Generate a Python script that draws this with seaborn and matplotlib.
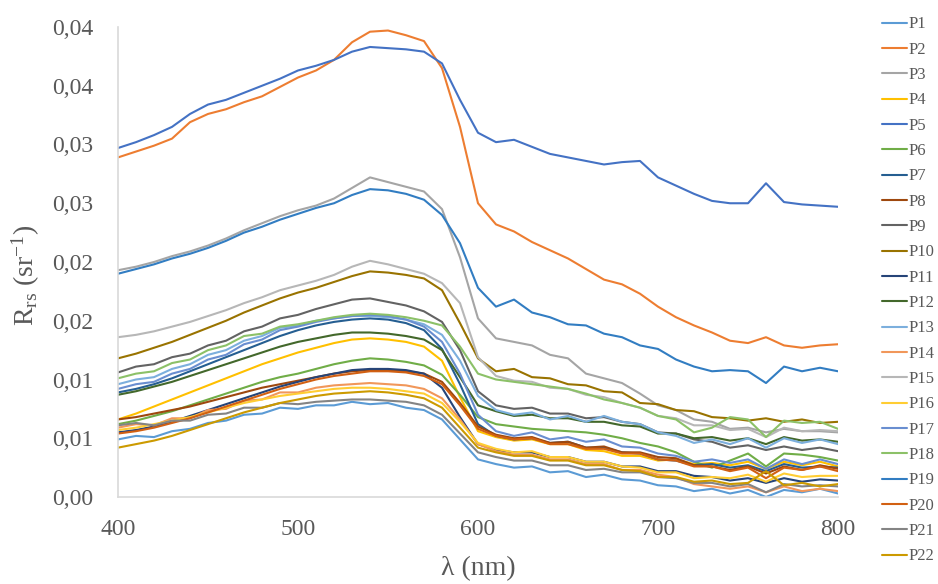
import numpy as np
import pandas as pd
import seaborn as sns
import matplotlib.pyplot as plt

# wavelength grid (nm) and Rrs values, in units of 1e-3 sr^-1
wavelength = list(range(400, 801, 10))

p1 = [4.9, 5.2, 5.1, 5.6, 5.8, 6.3, 6.5, 7.0, 7.1, 7.6, 7.5,
      7.8, 7.8, 8.1, 7.9, 8.0, 7.6, 7.4, 6.6, 4.9, 3.2,
      2.8, 2.5, 2.6, 2.1, 2.2, 1.7, 1.9, 1.5, 1.4, 1.0,
      0.9, 0.5, 0.7, 0.3, 0.6, 0.0, 0.6, 0.4, 0.7, 0.3]
p2 = [28.9, 29.4, 29.9, 30.5, 31.9, 32.6, 33.0, 33.6, 34.1, 34.9, 35.7,
      36.3, 37.2, 38.7, 39.6, 39.7, 39.3, 38.8, 36.5, 31.5, 25.0,
      23.2, 22.6, 21.7, 21.0, 20.3, 19.4, 18.5, 18.1, 17.3, 16.2,
      15.3, 14.6, 14.0, 13.3, 13.1, 13.6, 12.9, 12.7, 12.9, 13.0]
p3 = [19.3, 19.6, 20.0, 20.5, 20.9, 21.4, 22.0, 22.7, 23.3, 23.9, 24.4,
      24.8, 25.4, 26.3, 27.2, 26.8, 26.4, 26.0, 24.5, 20.4, 15.2,
      13.5, 13.2, 12.9, 12.1, 11.8, 10.5, 10.1, 9.7, 8.8, 7.8,
      7.4, 6.6, 6.4, 5.8, 5.9, 5.5, 5.8, 5.6, 5.6, 5.5]
p4 = [6.6, 7.1, 7.7, 8.3, 8.9, 9.5, 10.1, 10.7, 11.3, 11.8, 12.3,
      12.7, 13.1, 13.4, 13.5, 13.4, 13.2, 12.8, 11.6, 8.5, 5.6,
      5.1, 4.8, 4.9, 4.5, 4.5, 4.0, 3.9, 3.5, 3.5, 3.1,
      3.2, 2.8, 2.9, 2.7, 3.0, 2.4, 3.0, 2.7, 3.0, 2.6]
p5 = [29.7, 30.2, 30.8, 31.5, 32.6, 33.4, 33.8, 34.4, 35.0, 35.6, 36.3,
      36.7, 37.2, 37.9, 38.3, 38.2, 38.1, 37.9, 36.9, 33.8, 31.0,
      30.2, 30.4, 29.8, 29.2, 28.9, 28.6, 28.3, 28.5, 28.6, 27.2,
      26.5, 25.8, 25.2, 25.0, 25.0, 26.7, 25.1, 24.9, 24.8, 24.7]
p6 = [6.2, 6.5, 6.9, 7.3, 7.8, 8.3, 8.8, 9.3, 9.8, 10.2, 10.5,
      10.9, 11.3, 11.6, 11.8, 11.7, 11.5, 11.2, 10.4, 8.7, 6.8,
      6.2, 6.0, 5.8, 5.7, 5.6, 5.5, 5.3, 5.0, 4.6, 4.3,
      3.8, 3.0, 2.5, 3.1, 3.7, 2.6, 3.7, 3.6, 3.4, 3.1]
p7 = [8.9, 9.2, 9.6, 10.1, 10.7, 11.3, 11.9, 12.5, 13.1, 13.7, 14.2,
      14.6, 14.9, 15.1, 15.2, 15.1, 14.8, 14.2, 12.6, 9.6, 6.2,
      5.2, 4.9, 5.0, 4.6, 4.7, 4.2, 4.2, 3.8, 3.7, 3.2,
      3.1, 2.7, 2.8, 2.5, 2.7, 2.2, 2.8, 2.5, 2.6, 2.5]
p8 = [6.6, 6.8, 7.1, 7.4, 7.7, 8.1, 8.5, 8.9, 9.3, 9.6, 9.9,
      10.2, 10.5, 10.7, 10.8, 10.8, 10.7, 10.5, 9.8, 8.0, 6.0,
      5.3, 5.0, 5.1, 4.6, 4.7, 4.2, 4.3, 3.8, 3.8, 3.4,
      3.3, 2.7, 2.6, 2.3, 2.6, 2.0, 2.6, 2.3, 2.7, 2.4]
p9 = [10.6, 11.1, 11.3, 11.9, 12.2, 12.9, 13.3, 14.1, 14.5, 15.2, 15.5,
      16.0, 16.4, 16.8, 16.9, 16.6, 16.3, 15.8, 14.9, 12.5, 9.0,
      7.8, 7.5, 7.6, 7.1, 7.1, 6.7, 6.8, 6.4, 6.2, 5.5,
      5.4, 4.9, 4.7, 4.2, 4.4, 4.0, 4.3, 4.0, 4.2, 3.9]
p10 = [11.8, 12.2, 12.7, 13.2, 13.8, 14.4, 15.0, 15.7, 16.3, 16.9, 17.4,
       17.8, 18.3, 18.8, 19.2, 19.1, 18.9, 18.6, 17.6, 14.8, 11.8,
       10.7, 10.9, 10.2, 10.1, 9.6, 9.5, 9.0, 8.9, 8.0, 7.9,
       7.4, 7.3, 6.8, 6.7, 6.5, 6.7, 6.4, 6.6, 6.3, 6.4]
p11 = [5.5, 5.7, 6.0, 6.4, 6.9, 7.4, 7.9, 8.4, 8.9, 9.4, 9.8,
       10.2, 10.5, 10.8, 10.9, 10.9, 10.8, 10.5, 9.3, 6.8, 4.5,
       4.0, 3.8, 3.8, 3.4, 3.4, 3.0, 3.0, 2.6, 2.6, 2.2,
       2.2, 1.8, 1.7, 1.4, 1.6, 1.2, 1.6, 1.3, 1.5, 1.4]
p12 = [8.7, 9.0, 9.4, 9.8, 10.3, 10.8, 11.3, 11.8, 12.3, 12.8, 13.2,
       13.5, 13.8, 14.0, 14.0, 13.9, 13.7, 13.4, 12.5, 10.2, 7.8,
       7.3, 6.9, 7.0, 6.7, 6.7, 6.4, 6.4, 6.1, 6.0, 5.4,
       5.4, 5.0, 5.1, 4.8, 5.0, 4.5, 5.1, 4.8, 4.9, 4.7]
p13 = [9.6, 10.0, 10.2, 10.9, 11.3, 12.1, 12.5, 13.3, 13.7, 14.4, 14.6,
       15.0, 15.2, 15.4, 15.4, 15.3, 15.1, 14.7, 13.8, 11.6, 8.6,
       7.4, 7.0, 7.2, 6.6, 6.9, 6.4, 6.9, 6.4, 6.2, 5.5,
       5.2, 4.6, 4.9, 4.5, 5.0, 4.2, 5.0, 4.6, 4.9, 4.5]
p14 = [5.9, 6.2, 6.1, 6.7, 6.7, 7.4, 7.5, 8.2, 8.3, 8.9, 8.9,
       9.3, 9.5, 9.6, 9.7, 9.6, 9.5, 9.2, 8.4, 6.6, 4.5,
       3.9, 3.6, 3.6, 3.2, 3.2, 2.8, 2.8, 2.3, 2.3, 1.9,
       1.7, 1.1, 0.9, 0.7, 0.9, 0.4, 0.9, 0.5, 0.7, 0.5]
p15 = [13.6, 13.8, 14.1, 14.5, 14.9, 15.4, 15.9, 16.5, 17.0, 17.6, 18.0,
       18.4, 18.9, 19.6, 20.1, 19.8, 19.4, 19.0, 18.2, 16.5, 11.9,
       10.3, 9.9, 9.8, 9.3, 9.2, 8.7, 8.5, 8.0, 7.6, 6.9,
       6.7, 6.1, 6.1, 5.7, 5.8, 5.1, 5.9, 5.6, 5.7, 5.6]
p16 = [5.7, 5.9, 6.2, 6.5, 6.8, 7.2, 7.6, 8.0, 8.3, 8.6, 8.8,
       9.0, 9.2, 9.3, 9.3, 9.2, 9.0, 8.8, 8.0, 6.4, 4.6,
       4.1, 3.8, 3.9, 3.4, 3.4, 3.0, 3.0, 2.6, 2.5, 2.1,
       2.1, 1.6, 1.7, 1.6, 1.9, 1.3, 2.0, 1.7, 1.8, 1.8]
p17 = [9.2, 9.6, 9.8, 10.5, 10.9, 11.7, 12.1, 13.0, 13.4, 14.2, 14.5,
       14.9, 15.2, 15.4, 15.5, 15.4, 15.1, 14.5, 13.2, 10.5, 7.0,
       5.6, 5.2, 5.5, 4.9, 5.1, 4.7, 4.9, 4.3, 4.2, 3.7,
       3.5, 3.0, 3.2, 2.9, 3.2, 2.4, 3.2, 2.8, 3.2, 2.8]
p18 = [10.1, 10.5, 10.7, 11.4, 11.7, 12.5, 12.9, 13.7, 13.9, 14.5, 14.7,
       15.0, 15.3, 15.5, 15.6, 15.5, 15.3, 15.0, 14.6, 12.8, 10.5,
       10.0, 9.8, 9.6, 9.4, 9.2, 8.8, 8.3, 8.0, 7.6, 6.9,
       6.6, 5.5, 5.9, 6.8, 6.6, 5.1, 6.5, 6.3, 6.4, 5.8]
p19 = [19.0, 19.4, 19.8, 20.3, 20.7, 21.2, 21.8, 22.5, 23.0, 23.6, 24.1,
       24.6, 25.0, 25.7, 26.2, 26.1, 25.8, 25.3, 24.0, 21.6, 17.8,
       16.2, 16.8, 15.7, 15.3, 14.7, 14.6, 13.9, 13.6, 12.9, 12.6,
       11.7, 11.1, 10.7, 10.8, 10.7, 9.7, 11.1, 10.7, 11.0, 10.7]
p20 = [5.4, 5.6, 5.9, 6.3, 6.7, 7.2, 7.7, 8.2, 8.7, 9.2, 9.6,
       10.0, 10.3, 10.5, 10.7, 10.7, 10.6, 10.3, 9.6, 7.8, 5.8,
       5.2, 4.9, 5.0, 4.5, 4.5, 4.1, 4.1, 3.7, 3.7, 3.2,
       3.1, 2.6, 2.6, 2.2, 2.5, 1.6, 2.5, 2.3, 2.6, 2.2]
p21 = [6.1, 6.3, 6.1, 6.5, 6.5, 7.0, 7.1, 7.6, 7.6, 8.0, 7.9,
       8.1, 8.2, 8.3, 8.3, 8.2, 8.1, 7.8, 7.0, 5.4, 3.8,
       3.4, 3.1, 3.1, 2.7, 2.7, 2.3, 2.4, 2.1, 2.1, 1.7,
       1.6, 1.2, 1.2, 0.9, 1.1, 0.4, 1.1, 0.9, 1.0, 0.9]
p22 = [4.2, 4.5, 4.8, 5.2, 5.7, 6.2, 6.7, 7.2, 7.6, 8.0, 8.3,
       8.6, 8.8, 8.9, 9.0, 8.9, 8.7, 8.4, 7.6, 5.9, 4.2,
       3.8, 3.5, 3.5, 3.1, 3.1, 2.7, 2.7, 2.3, 2.2, 1.7,
       1.7, 1.3, 1.4, 1.1, 1.2, 2.2, 1.0, 1.2, 0.9, 1.1]

series_names = ['P' + str(i) for i in range(1, 23)]
series_values = [p1, p2, p3, p4, p5, p6, p7, p8, p9, p10, p11,
                 p12, p13, p14, p15, p16, p17, p18, p19, p20, p21, p22]

# Excel office palette
colours = ['#5B9BD5', '#ED7D31', '#A5A5A5', '#FFC000', '#4472C4', '#70AD47',
           '#255E91', '#9E480E', '#636363', '#997300', '#264478', '#43682B',
           '#7CAFDD', '#F1975A', '#B7B7B7', '#FFCD33', '#698ED0', '#8CC168',
           '#327DC2', '#D26012', '#848484', '#CC9A00']

x_ticks = [400, 500, 600, 700, 800]
y_ticks = [0, 0.005, 0.01, 0.015, 0.02, 0.025, 0.03, 0.035, 0.04]
y_tick_labels = ['0,00', '0,01', '0,01', '0,02', '0,02', '0,03', '0,03', '0,04', '0,04']

# long form table for seaborn
rows = []
for name, vals in zip(series_names, series_values):
    for wl, v in zip(wavelength, vals):
        rows.append({'wl': wl, 'rrs': v / 1000, 'point': name})
df = pd.DataFrame(rows)

sns.set_style('white')
plt.rcParams['font.family'] = ['Liberation Serif', 'DejaVu Serif']
plt.rcParams['mathtext.fontset'] = 'custom'
plt.rcParams['mathtext.rm'] = 'Liberation Serif'
plt.rcParams['mathtext.it'] = 'Liberation Serif:italic'

fig = plt.figure(figsize=(9.38, 5.84), dpi=100)
ax = fig.add_axes([118 / 938, 87 / 584, 720 / 938, 470 / 584])

sns.lineplot(data=df, x='wl', y='rrs', hue='point', hue_order=series_names,
             palette=colours, linewidth=1.5, estimator=None, ax=ax)

ax.set_xlim(400, 800)
ax.set_ylim(0, 0.04)
ax.set_xticks(x_ticks)
ax.set_yticks(y_ticks)
ax.set_yticklabels(y_tick_labels)
ax.tick_params(axis='both', labelsize=17, colors='#595959', length=0)
ax.tick_params(axis='y', pad=18)
ax.tick_params(axis='x', pad=16)

for side in ['top', 'right']:
    ax.spines[side].set_visible(False)
for side in ['left', 'bottom']:
    ax.spines[side].set_color('#D9D9D9')
    ax.spines[side].set_linewidth(1.2)

ax.set_xlabel('λ (nm)', fontsize=20, color='#595959')
ax.set_ylabel(r'R$_{\mathrm{rs}}$ (sr$^{\mathrm{-1}}$)', fontsize=20, color='#595959')
ax.xaxis.set_label_coords(0.5, -0.125)
ax.yaxis.set_label_coords(-0.106, 0.472)

handles, labels = ax.get_legend_handles_labels()
ax.legend(handles, labels, loc='upper left', bbox_to_anchor=(882 / 938, 0.972),
          bbox_transform=fig.transFigure, frameon=False, fontsize=12,
          labelcolor='#595959', handlelength=1.5, handletextpad=0.1,
          labelspacing=0.56, borderpad=0, borderaxespad=0)

fig.savefig('out.png', dpi=100)
